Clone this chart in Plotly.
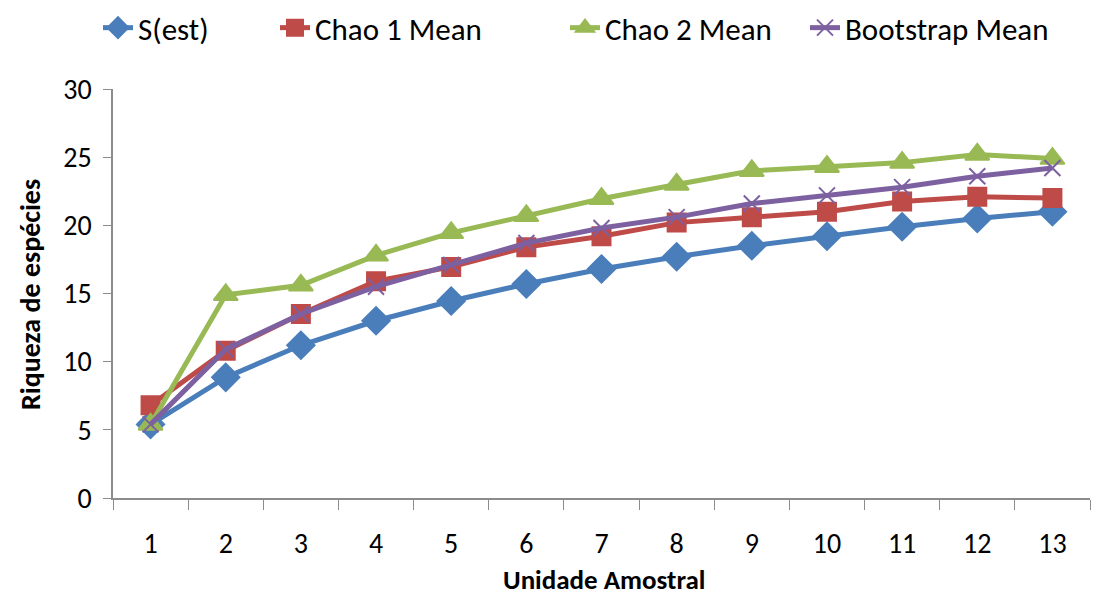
import plotly.graph_objects as go

categories = [str(i) for i in range(1, 14)]
s_est = [5.4, 8.85, 11.2, 13.0, 14.45, 15.7, 16.8, 17.7, 18.5, 19.2, 19.9, 20.5, 21.0]
chao1 = [6.8, 10.8, 13.5, 15.9, 16.95, 18.4, 19.2, 20.2, 20.6, 21.0, 21.75, 22.1, 22.0]
chao2 = [5.4, 14.9, 15.6, 17.8, 19.45, 20.7, 21.95, 23.0, 24.0, 24.3, 24.6, 25.2, 24.9]
boot = [5.4, 10.9, 13.5, 15.5, 17.1, 18.7, 19.8, 20.6, 21.6, 22.2, 22.8, 23.6, 24.2]
y_ticks = [0, 5, 10, 15, 20, 25, 30]

FONT = "Carlito, Liberation Sans Narrow, Open Sans, sans-serif"
W, H = 1107, 596
L, R, T, B = 113, 17, 89, 98

fig = go.Figure()
series = [
    ("S(est)", s_est, "#4A7EBB", "diamond", 21, "legend"),
    ("Chao 1 Mean", chao1, "#BE4B48", "square", 18, "legend2"),
    ("Chao 2 Mean", chao2, "#98B954", "triangle-up", 21, "legend3"),
    ("Bootstrap Mean", boot, "#7D60A0", "x-thin-open", 16, "legend4"),
]
for name, vals, color, sym, size, lg in series:
    fig.add_trace(go.Scatter(
        x=categories, y=vals, name=name, mode="lines+markers",
        line=dict(color=color, width=5),
        marker=dict(symbol=sym, size=size, color=color,
                    line=dict(color=color, width=2)),
        legend=lg,
    ))

def leg(px):
    return dict(orientation="h", xref="container", yref="container",
                x=px / W, xanchor="left", y=1 - 28 / H, yanchor="middle",
                font=dict(size=31, family=FONT), bgcolor="rgba(0,0,0,0)")

pw, ph = W - L - R, H - T - B
fig.update_layout(
    width=W, height=H,
    margin=dict(l=L, r=R, t=T, b=B, autoexpand=False),
    plot_bgcolor="white", paper_bgcolor="white",
    font=dict(family=FONT, size=28, color="black"),
    showlegend=True,
    legend=leg(98), legend2=leg(275), legend3=leg(565), legend4=leg(805),
    annotations=[
        dict(text="<b>Unidade Amostral</b>", xref="paper", yref="paper",
             x=(604 - L) / pw, y=-(579 - (H - B)) / ph, xanchor="center", yanchor="middle",
             showarrow=False, font=dict(size=27)),
        dict(text="<b>Riqueza de espécies</b>", xref="paper", yref="paper",
             x=-(L - 30) / pw, y=((H - B) - 295) / ph, xanchor="center", yanchor="middle",
             textangle=-90, showarrow=False, font=dict(size=28)),
    ],
)
fig.update_xaxes(
    type="category", range=[-0.5, 12.5], automargin=False,
    showline=True, linecolor="#8c8c8c", linewidth=1.5,
    ticks="outside", tickson="boundaries", ticklen=10, tickcolor="#8c8c8c",
    showgrid=False, tickfont=dict(size=28), ticklabelstandoff=20,
)
fig.update_yaxes(
    range=[0, 30], tickvals=y_ticks, automargin=False,
    showline=True, linecolor="#8c8c8c", linewidth=1.5,
    ticks="outside", ticklen=8, tickcolor="#8c8c8c",
    showgrid=False, zeroline=False, tickfont=dict(size=28), ticklabelstandoff=6,
)

fig.write_html("out.html", config={"displayModeBar": False},
               post_script="document.body.style.margin='0';document.body.style.overflow='hidden';")
